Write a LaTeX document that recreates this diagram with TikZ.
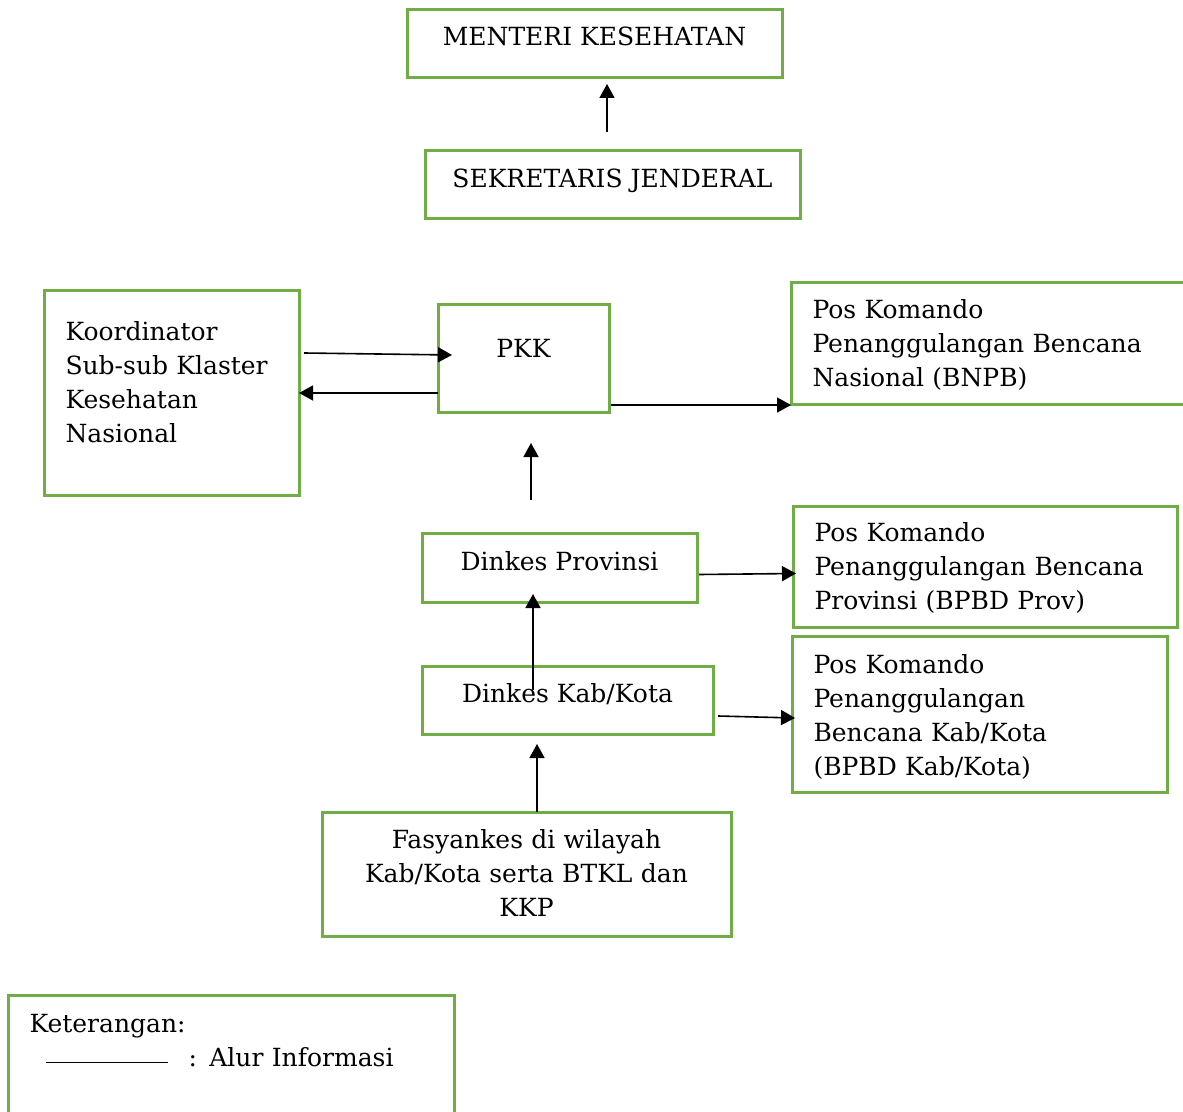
\documentclass[tikz,border=0pt]{standalone}
\usepackage{fontspec}
\setmainfont{DejaVu Serif}
\usetikzlibrary{arrows.meta,calc}
\definecolor{boxgreen}{HTML}{70AD47}
\begin{document}
\begin{tikzpicture}[
        x=0.5pt, y=-0.5pt,
        font=\fontsize{12.5pt}{17pt}\selectfont,
        box/.style={
            draw=boxgreen,
            line width=1.5pt,
            anchor=north west,
            inner ysep=0pt,
            outer sep=0pt,
        },
        leftbox/.style={
            box,
            align=left,
            inner xsep=10.75pt,
        },
        arr/.style={
            draw=black,
            line width=0.8pt,
            -{Triangle[width=7.5pt,length=7pt]},
        },
    ]

    \useasboundingbox (0, 0) rectangle (1183, 1112);
    \clip (0, 0) rectangle (1183, 1112);

    \node[box, minimum width=187.5pt, text height=18pt, text depth=16pt]     (men)    at (407, 10)  {MENTERI KESEHATAN};
    \node[box, minimum width=187.5pt, text height=18.5pt, text depth=15.5pt] (sek)    at (425, 151) {SEKRETARIS JENDERAL};
    \node[leftbox, text width=106pt, text height=25pt, text depth=77pt]       (koord)  at (44, 291)  {Koordinator\\\mbox{Sub-sub Klaster}\\Kesehatan\\Nasional};
    \node[box, minimum width=85.5pt, text height=26.5pt, text depth=27.5pt]  (pkk)    at (438, 305) {PKK};
    \node[leftbox, text width=181pt, text height=18pt, text depth=43pt]       (bnpb)   at (791, 283) {Pos Komando\\\mbox{Penanggulangan Bencana}\\Nasional (BNPB)};
    \node[box, minimum width=137.5pt, text height=18.5pt, text depth=16pt]   (prov)   at (422, 533) {Dinkes Provinsi};
    \node[leftbox, text width=170.5pt, text height=17.5pt, text depth=43pt]   (bpprov) at (793, 506) {Pos Komando\\\mbox{Penanggulangan Bencana}\\Provinsi (BPBD Prov)};
    \node[box, minimum width=145.5pt, text height=18pt, text depth=16pt]     (kab)    at (422, 666) {Dinkes Kab/Kota};
    \node[leftbox, text width=166pt, text height=18.5pt, text depth=59.5pt]   (bpkab)  at (792, 636) {Pos Komando\\Penanggulangan\\Bencana Kab/Kota\\(BPBD Kab/Kota)};
    \node[box, align=center, inner xsep=4pt, text width=196.5pt, text height=18pt, text depth=44pt] (fas) at (322, 812) {Fasyankes di wilayah\\Kab/Kota serta BTKL dan\\KKP};
    \node[leftbox, text width=201.5pt, text height=18.5pt, text depth=48pt]   (ket)    at (8, 995)   {Keterangan:\\\hspace*{8pt}\rule[1.5pt]{61.5pt}{0.6pt}\hspace{10pt}: Alur Informasi};

    \draw[arr, shorten <=9.5pt, shorten >=3pt] ($(sek.north)+(-5.5, 0)$) coordinate (s1) -- (s1 |- men.south);
    \draw[arr] ($(koord.east |- pkk.west)+(5, -6)$) -- ($(pkk.west)+(14, -4)$);
    \draw[arr] (pkk.west |- koord.east) -- (koord.east);
    \draw[arr] ($(pkk.east |- bnpb.south west)+(2, 0)$) -- (bnpb.south west);
    \draw[arr, shorten <=16.5pt, shorten >=15pt] ($(prov.north)+(-28.5, 0)$) coordinate (p1) -- (p1 |- pkk.south);
    \draw[arr] ($(kab.north)+(-34.5, 24)$) coordinate (k1) -- ($(k1 |- prov.south)+(0, -8)$);
    \draw[arr] ($(prov.east)+(2, 7)$) -- ($(bpprov.west)+(3, 7)$);
    \draw[arr] ($(kab.east)+(5, 16)$) -- ($(bpkab.west)+(3, 4)$);
    \draw[arr, shorten >=5pt] ($(fas.north)+(10.5, 0)$) coordinate (f1) -- (f1 |- kab.south);

\end{tikzpicture}
\end{document}
